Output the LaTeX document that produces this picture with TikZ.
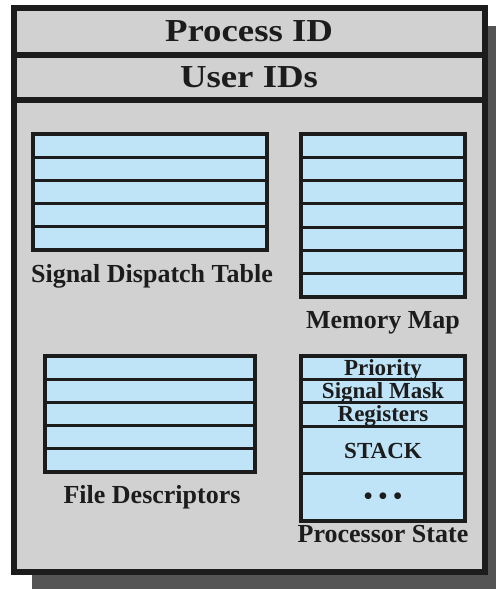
\documentclass[tikz,border=0pt]{standalone}
\usepackage{fontspec}
\setmainfont{Liberation Serif}
\newfontfamily\titlefont[FakeStretch=1.15]{Liberation Serif}
\definecolor{panelgray}{HTML}{D1D1D1}
\definecolor{shadowgray}{HTML}{545454}
\definecolor{cellblue}{HTML}{BFE4F8}
\definecolor{inkblack}{HTML}{1C1C1C}
\tikzset{
  titletext/.style={anchor=base, inner sep=0pt, font=\titlefont\bfseries\fontsize{32}{32}\selectfont, text=inkblack},
  labeltext/.style={anchor=base, inner sep=0pt, font=\bfseries\fontsize{26}{26}\selectfont, text=inkblack},
  celltext/.style={anchor=base, inner sep=0pt, font=\bfseries\fontsize{23}{23}\selectfont, text=inkblack},
  tableframe/.style={draw=inkblack, fill=cellblue, line width=4pt},
  rowline/.style={draw=inkblack, line width=3pt},
}
\begin{document}
\begin{tikzpicture}[x=1pt,y=-1pt]
\useasboundingbox (0,0) rectangle (496,589);
% shadow
\fill[shadowgray] (32,26) rectangle (496,589);
% main box
\draw[fill=panelgray, draw=inkblack, line width=6pt] (14,8) rectangle (485,572);
\draw[inkblack, line width=6pt] (11,55) -- (488,55);
\draw[inkblack, line width=6pt] (11,100) -- (488,100);
\node[titletext] (pid) at (249,41.5) {Process ID};
\node[titletext] (uid) at (249,87) {User IDs};
% Signal dispatch table
\draw[tableframe] (33,134) rectangle (267,250);
\foreach \i in {1,...,4} \draw[rowline] (33,{134+\i*23.2}) -- (267,{134+\i*23.2});
\node[labeltext] (sdt) at (152,282) {Signal Dispatch Table};
% Memory map
\draw[tableframe] (301,134) rectangle (465,297);
\foreach \i in {1,...,6} \draw[rowline] (301,{134+\i*23.29}) -- (465,{134+\i*23.29});
\node[labeltext] (mm) at (383,328) {Memory Map};
% File descriptors
\draw[tableframe] (45,356) rectangle (255,472);
\foreach \i in {1,...,4} \draw[rowline] (45,{356+\i*23.2}) -- (255,{356+\i*23.2});
\node[labeltext] (fd) at (152,503) {File Descriptors};
% Processor state
\draw[tableframe] (301,356) rectangle (465,521);
\foreach \y in {379,402,426,473} \draw[rowline] (301,\y) -- (465,\y);
\node[celltext] (prio) at (383,375) {Priority};
\node[celltext] (mask) at (383,398) {Signal Mask};
\node[celltext] (regs) at (383,421.5) {Registers};
\node[celltext] (stack) at (383,458) {STACK};
\node[celltext, font=\bfseries\fontsize{25}{25}\selectfont] (dots) at (383,504) {•\hspace{6pt}•\hspace{6pt}•};
\node[labeltext] (ps) at (383,542.5) {Processor State};
\end{tikzpicture}
\end{document}
